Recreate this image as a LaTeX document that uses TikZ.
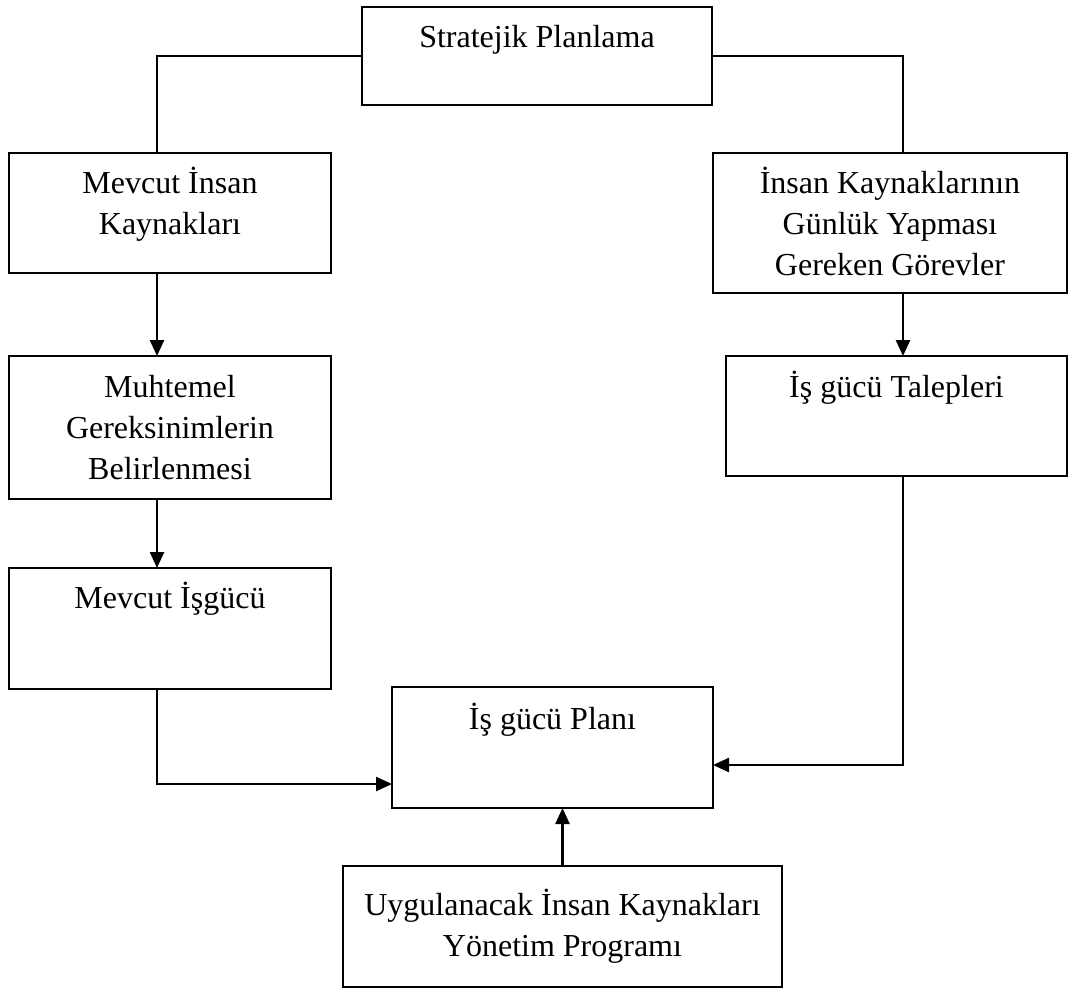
\documentclass[tikz,border=0pt]{standalone}
\usepackage{fontspec}
\setmainfont{Liberation Serif}
\usetikzlibrary{arrows.meta,calc}
\tikzset{
  box/.style={draw, line width=2.5pt, inner sep=0pt, outer sep=0pt},
  txt/.style={inner sep=0pt, anchor=base, font=\fontsize{32pt}{41pt}\selectfont},
  conn/.style={line width=2.5pt},
  arr/.style={line width=2.5pt, -{Triangle[length=16pt,width=14pt]}}
}
\newcommand{\btext}[1]{\parbox[t]{420pt}{\centering #1}}
\begin{document}
\begin{tikzpicture}[x=1pt,y=-1pt]
\useasboundingbox (0,0) rectangle (1070,989);
% boxes
\node[box, minimum width=350pt, minimum height=98pt]  (strat) at (537,56) {};
\node[box, minimum width=322pt, minimum height=120pt] (mik)   at (170,213) {};
\node[box, minimum width=354pt, minimum height=140pt] (ikg)   at (890,223) {};
\node[box, minimum width=322pt, minimum height=143pt] (muh)   at (170,427.5) {};
\node[box, minimum width=341pt, minimum height=120pt] (tal)   at (896.5,416) {};
\node[box, minimum width=322pt, minimum height=121pt] (mig)   at (170,628.5) {};
\node[box, minimum width=321pt, minimum height=121pt] (plan)  at (552.5,747.5) {};
\node[box, minimum width=439pt, minimum height=121pt] (uyg)   at (562.5,926.5) {};
% texts
\node[txt] (strat-t) at ([yshift=-40pt]strat.north) {\btext{Stratejik Planlama}};
\node[txt] (mik-t)   at ([yshift=-40pt]mik.north)   {\btext{Mevcut İnsan\\Kaynakları}};
\node[txt] (ikg-t)   at ([yshift=-40pt]ikg.north)   {\btext{İnsan Kaynaklarının\\Günlük Yapması\\Gereken Görevler}};
\node[txt] (muh-t)   at ([yshift=-41pt]muh.north)   {\btext{Muhtemel\\Gereksinimlerin\\Belirlenmesi}};
\node[txt] (tal-t)   at ([yshift=-41pt]tal.north)   {\btext{İş gücü Talepleri}};
\node[txt] (mig-t)   at ([yshift=-40pt]mig.north)   {\btext{Mevcut İşgücü}};
\node[txt] (plan-t)  at ([yshift=-42pt]plan.north)  {\btext{İş gücü Planı}};
\node[txt] (uyg-t)   at ([yshift=-49pt]uyg.north)   {\btext{Uygulanacak İnsan Kaynakları\\Yönetim Programı}};
% column coordinates
\coordinate (lc) at (157,0);
\coordinate (rc) at (903,0);
% connectors
\draw[conn] (strat.west) -| (lc |- mik.north);
\draw[conn] (strat.east) -| (rc |- ikg.north);
\draw[arr] (lc |- mik.south) -- (lc |- muh.north);
\draw[arr] (rc |- ikg.south) -- (rc |- tal.north);
\draw[arr] (lc |- muh.south) -- (lc |- mig.north);
\draw[arr] (lc |- mig.south) |- ([yshift=-36.5pt]plan.west);
\draw[arr] (rc |- tal.south) |- ([yshift=-17.5pt]plan.east);
\draw[arr] (uyg.north) -- (uyg.north |- plan.south);
\end{tikzpicture}
\end{document}
